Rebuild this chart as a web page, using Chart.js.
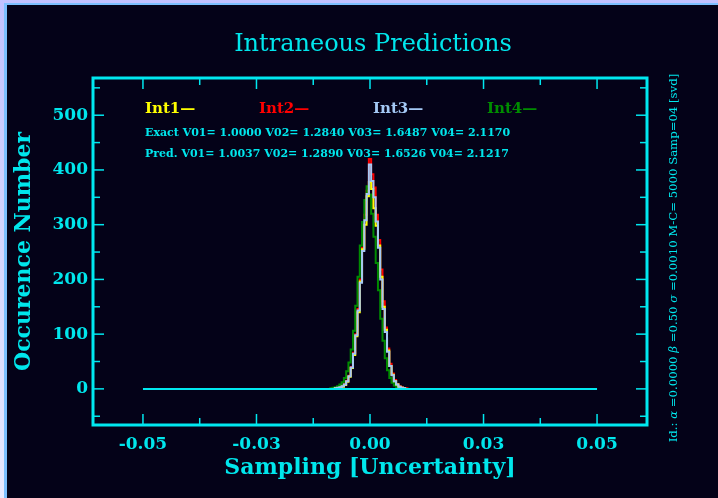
<!DOCTYPE html>
<html>
<head>
<meta charset="utf-8">
<title>Intraneous Predictions</title>
<script src="https://cdn.jsdelivr.net/npm/chart.js@4.4.1/dist/chart.umd.min.js"></script>
<style>
  html, body { margin: 0; padding: 0; }
  body { width: 718px; height: 498px; position: relative; overflow: hidden;
         background: linear-gradient(#c2c2ff, #e8eaff); }
  #panel { position: absolute; left: 4px; top: 3px; right: 0; bottom: 0;
           background: #040218; border-left: 3px solid #7cc0ff; border-top: 2px solid #7cc0ff; }
  #wrap { position: absolute; left: 0; top: 0; width: 718px; height: 498px; }
</style>
</head>
<body>
<div id="panel"></div>
<div id="wrap"><canvas id="chart" width="718" height="498"></canvas></div>
<script>
// --- data ---
const binCenters = [-0.0100, -0.0095, -0.0090, -0.0085, -0.0080, -0.0075, -0.0070, -0.0065, -0.0060, -0.0055,
                    -0.0050, -0.0045, -0.0040, -0.0035, -0.0030, -0.0025, -0.0020, -0.0015, -0.0010, -0.0005,
                     0.0000,
                     0.0005,  0.0010,  0.0015,  0.0020,  0.0025,  0.0030,  0.0035,  0.0040,  0.0045,  0.0050,
                     0.0055,  0.0060,  0.0065,  0.0070,  0.0075,  0.0080,  0.0085,  0.0090,  0.0095,  0.0100];

const int1 = [0, 0, 0, 0, 0, 1, 1, 2, 4, 7, 13, 22, 38, 62, 96, 140, 196, 255, 300, 352,
              378,
              365, 330, 298, 262, 205, 150, 108, 70, 42, 26, 14, 8, 4, 2, 1, 0, 0, 0, 0, 0];
const int2 = [0, 0, 0, 0, 1, 1, 2, 3, 5, 9, 15, 24, 40, 66, 100, 146, 200, 258, 318, 362,
              420,
              392, 368, 318, 272, 218, 160, 112, 74, 46, 28, 16, 9, 5, 3, 1, 1, 0, 0, 0, 0];
const int3 = [0, 0, 0, 0, 0, 1, 2, 3, 5, 8, 14, 23, 39, 64, 98, 143, 194, 252, 308, 356,
              410,
              380, 350, 306, 258, 200, 146, 104, 68, 42, 25, 14, 8, 4, 2, 1, 0, 0, 0, 0, 0];
const int4 = [0, 0, 0, 1, 2, 3, 5, 8, 12, 20, 32, 48, 72, 106, 152, 205, 262, 305, 345, 370,
              355,
              320, 278, 230, 180, 128, 88, 56, 34, 20, 11, 6, 3, 2, 1, 0, 0, 0, 0, 0, 0];

const baselineX = [-0.05, 0.05];
const baselineY = [0, 0];

const xTickValues = [-0.05, -0.025, 0, 0.025, 0.05];
const xTickLabels = ['-0.05', '-0.03', '0.00', '0.03', '0.05'];
const xMinorTicks = [-0.0375, -0.0125, 0.0125, 0.0375];
const yTickValues = [0, 100, 200, 300, 400, 500];
const yTickLabels = ['0', '100', '200', '300', '400', '500'];
const yMinorTicks = [-50, 50, 150, 250, 350, 450, 550];

const seriesNames = ['Int1', 'Int2', 'Int3', 'Int4'];
const exactLine = 'Exact V01= 1.0000 V02= 1.2840 V03= 1.6487 V04= 2.1170';
const predLine  = 'Pred. V01= 1.0037 V02= 1.2890 V03= 1.6526 V04= 2.1217';
// nota lateral en trozos: [texto, cursiva]
const sideNote = [['Id.: ', false], ['\u03b1', true], [' =0.0000 ', false], ['\u03b2', true],
                  [' =0.50 ', false], ['\u03c3', true], [' =0.0010 M-C= 5000 Samp=04 [svd]', false]];

// --- styles ---
const CYAN = '#00e6ec';
const FRAME = '#00e8f0';
const SERIF = '"DejaVu Serif", "Liberation Serif", serif';
const colors = ['#ffff00', '#ff0000', '#a4c8f4', '#008c00'];

const toPoints = (ys) => ys.map((y, i) => ({ x: binCenters[i], y: y }));

const histo = (label, ys, color, order) => ({
    label: label,
    data: toPoints(ys),
    borderColor: color,
    borderWidth: 2,
    stepped: 'middle',
    pointRadius: 0,
    fill: false,
    order: order
});

// marco y marcas hacia dentro en los cuatro lados
const framePlugin = {
    id: 'frame',
    afterDatasetsDraw(chart) {
        const { ctx, chartArea: a, scales: { x, y } } = chart;
        ctx.save();
        ctx.strokeStyle = FRAME;
        ctx.lineWidth = 3;
        ctx.strokeRect(a.left, a.top, a.right - a.left, a.bottom - a.top);
        ctx.lineWidth = 1.5;
        const tick = (x1, y1, x2, y2) => { ctx.beginPath(); ctx.moveTo(x1, y1); ctx.lineTo(x2, y2); ctx.stroke(); };
        xTickValues.forEach(v => { const p = x.getPixelForValue(v); tick(p, a.bottom, p, a.bottom - 11); tick(p, a.top, p, a.top + 11); });
        xMinorTicks.forEach(v => { const p = x.getPixelForValue(v); tick(p, a.bottom, p, a.bottom - 7); tick(p, a.top, p, a.top + 7); });
        yTickValues.forEach(v => { const p = y.getPixelForValue(v); tick(a.left, p, a.left + 11, p); tick(a.right, p, a.right - 11, p); });
        yMinorTicks.forEach(v => { const p = y.getPixelForValue(v); tick(a.left, p, a.left + 7, p); tick(a.right, p, a.right - 7, p); });
        ctx.restore();
    }
};

// titulo, leyenda y textos
const textPlugin = {
    id: 'texts',
    afterDraw(chart) {
        const { ctx } = chart;
        ctx.save();
        ctx.textBaseline = 'middle';

        ctx.fillStyle = CYAN;
        ctx.textAlign = 'center';
        ctx.font = '24px ' + SERIF;
        ctx.fillText('Intraneous Predictions', 373, 45);

        ctx.textAlign = 'left';
        ctx.font = 'bold 15px ' + SERIF;
        seriesNames.forEach((n, i) => {
            ctx.fillStyle = colors[i];
            ctx.fillText(n + '\u2014', 145 + i * 114, 109);
        });

        ctx.fillStyle = CYAN;
        ctx.font = 'bold 11px ' + SERIF;
        ctx.fillText(exactLine, 145, 133);
        ctx.fillText(predLine, 145, 154);

        // texto vertical a la derecha
        ctx.translate(674, 258);
        ctx.rotate(-Math.PI / 2);
        const fontFor = (it) => (it ? 'italic ' : '') + '11.7px ' + SERIF;
        let total = 0;
        sideNote.forEach(([t, it]) => { ctx.font = fontFor(it); total += ctx.measureText(t).width; });
        let pos = -total / 2;
        sideNote.forEach(([t, it]) => {
            ctx.font = fontFor(it);
            ctx.fillText(t, pos, 0);
            pos += ctx.measureText(t).width;
        });
        ctx.restore();
    }
};

new Chart(document.getElementById('chart'), {
    type: 'line',
    data: {
        datasets: [
            { label: 'base', data: baselineX.map((v, i) => ({ x: v, y: baselineY[i] })),
              borderColor: FRAME, borderWidth: 2, pointRadius: 0, order: 0 },
            histo('Int3', int3, colors[2], 1),
            histo('Int1', int1, colors[0], 2),
            histo('Int4', int4, colors[3], 3),
            histo('Int2', int2, colors[1], 4)
        ]
    },
    options: {
        responsive: false,
        animation: false,
        events: [],
        layout: { padding: { left: 0, top: 78, right: 71, bottom: 0 } },
        plugins: { legend: { display: false }, tooltip: { enabled: false }, title: { display: false } },
        scales: {
            x: {
                type: 'linear', min: -0.061, max: 0.061,
                grid: { display: false, drawTicks: false },
                border: { display: false },
                afterBuildTicks: s => { s.ticks = xTickValues.map(v => ({ value: v })); },
                afterFit: s => { s.height = 73; },
                ticks: {
                    color: CYAN, padding: 9, maxRotation: 0, autoSkip: false,
                    font: { family: SERIF, size: 17, weight: 'bold' },
                    callback: (v, i) => xTickLabels[i]
                },
                title: {
                    display: true, text: 'Sampling [Uncertainty]', color: CYAN,
                    font: { family: SERIF, size: 22, weight: 'bold' },
                    padding: { top: 0, bottom: 17 }
                }
            },
            y: {
                type: 'linear', min: -66, max: 568,
                grid: { display: false, drawTicks: false },
                border: { display: false },
                afterBuildTicks: s => { s.ticks = yTickValues.map(v => ({ value: v })); },
                afterFit: s => { s.width = 93; },
                ticks: {
                    color: CYAN, padding: 5, autoSkip: false,
                    font: { family: SERIF, size: 17, weight: 'bold' },
                    callback: (v, i) => yTickLabels[i]
                },
                title: {
                    display: true, text: 'Occurence Number', color: CYAN,
                    font: { family: SERIF, size: 22, weight: 'bold' },
                    padding: { top: 11, bottom: 0 }
                }
            }
        }
    },
    plugins: [framePlugin, textPlugin]
});
</script>
</body>
</html>
